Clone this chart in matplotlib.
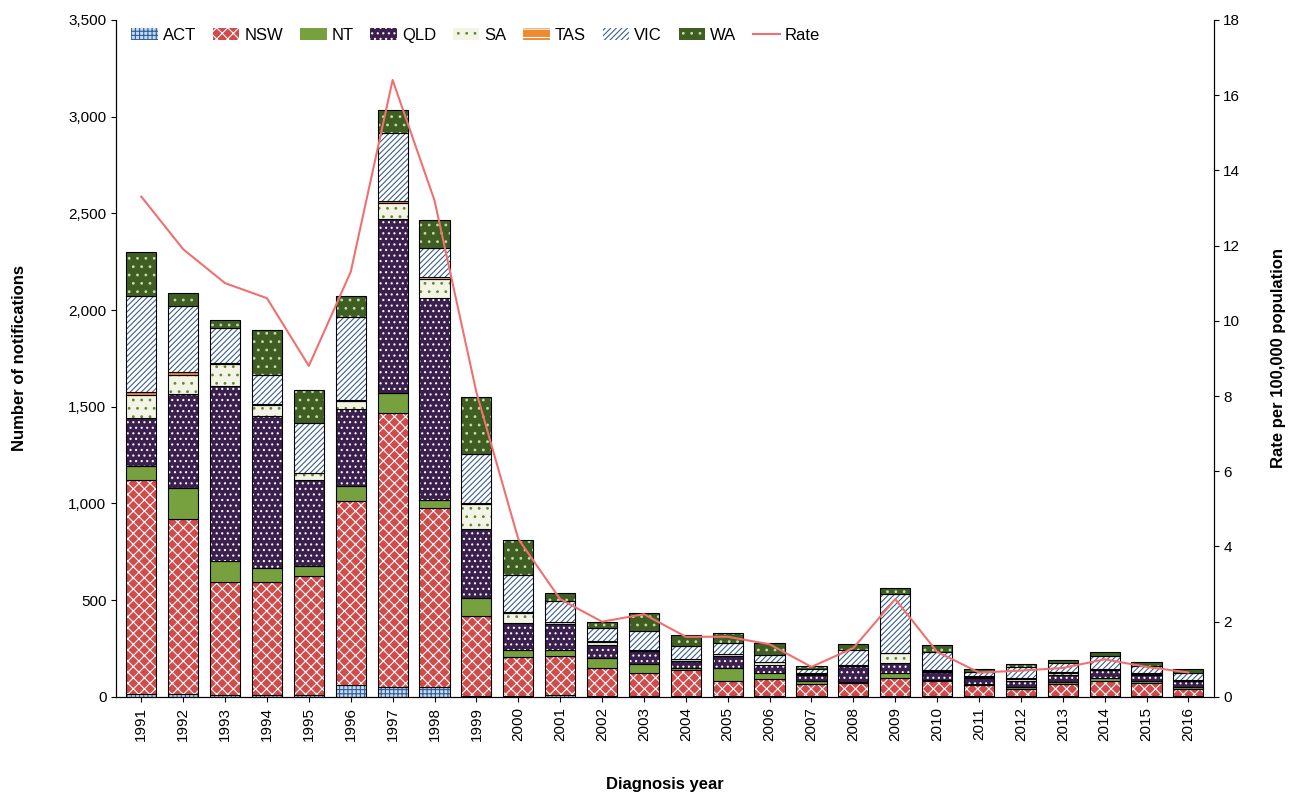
import matplotlib.pyplot as plt
import numpy as np

years = list(range(1991, 2017))
act = [15, 15, 10, 10, 10, 60, 50, 50, 5, 5, 10, 5, 5, 5, 5, 5, 5, 5, 5, 5, 5, 5, 5, 5, 5, 5]
nsw = [1105, 905, 585, 585, 615, 955, 1420, 925, 415, 200, 200, 145, 120, 135, 80, 90, 60, 65, 95, 75, 55, 35, 60, 80, 65, 35]
nt = [75, 160, 110, 70, 50, 75, 100, 45, 90, 40, 35, 50, 45, 10, 65, 30, 15, 5, 25, 10, 5, 10, 10, 15, 10, 10]
qld = [245, 485, 900, 785, 445, 400, 900, 1040, 360, 135, 130, 70, 65, 35, 60, 40, 35, 85, 50, 40, 35, 35, 40, 40, 35, 30]
sa = [120, 100, 115, 60, 35, 40, 85, 100, 125, 55, 10, 15, 5, 10, 10, 15, 5, 5, 50, 5, 5, 10, 10, 5, 5, 5]
tas = [15, 15, 5, 5, 5, 5, 10, 10, 5, 5, 5, 5, 5, 2, 2, 2, 2, 2, 2, 2, 2, 2, 2, 2, 2, 2]
vic = [495, 340, 180, 150, 255, 430, 350, 150, 255, 190, 105, 65, 95, 68, 58, 33, 23, 78, 303, 93, 23, 58, 48, 63, 38, 38]
wa = [230, 70, 45, 230, 170, 110, 120, 145, 295, 180, 40, 35, 95, 55, 50, 65, 15, 30, 35, 40, 15, 15, 15, 20, 20, 20]
rate = [13.3, 11.9, 11.0, 10.6, 8.8, 11.3, 16.4, 13.2, 8.1, 4.2, 2.6, 2.0, 2.2, 1.6, 1.6, 1.4,
        0.8, 1.3, 2.6, 1.2, 0.65, 0.7, 0.77, 1.0, 0.8, 0.65]

series = [
    ('ACT', act, '#c5d9ef', '#2f5f9a', '++++'),
    ('NSW', nsw, '#d24b4b', 'white', 'xxx'),
    ('NT', nt, '#77a03e', '#77a03e', ''),
    ('QLD', qld, '#3b1f4f', 'white', '...'),
    ('SA', sa, '#f4f4e6', '#5e8a30', '..'),
    ('TAS', tas, '#f08a30', 'white', '--'),
    ('VIC', vic, 'white', '#3a5f8f', '//////'),
    ('WA', wa, '#3f5f22', '#c8d8b0', '..'),
]

plt.rcParams['font.family'] = 'Liberation Sans'
plt.rcParams['hatch.linewidth'] = 0.8

fig, ax = plt.subplots(figsize=(12.91, 7.92), dpi=100)
x = np.arange(len(years))
bottom = np.zeros(len(years))
handles = []
for name, vals, fc, hc, hatch in series:
    vals = np.array(vals, dtype=float)
    b = ax.bar(x, vals, 0.72, bottom=bottom, color=fc, edgecolor=hc, hatch=hatch, linewidth=0, label=name)
    ax.bar(x, vals, 0.72, bottom=bottom, fill=False, edgecolor='black', linewidth=0.8)
    handles.append(b)
    bottom += vals

ax.set_ylim(0, 3500)
ax.set_yticks(range(0, 3501, 500))
ax.set_yticklabels([f'{v:,}' for v in range(0, 3501, 500)], fontsize=11)
ax.set_xlim(-0.6, len(years) - 0.4)
ax.set_xticks(x)
ax.set_xticklabels(years, rotation=90, fontsize=11)
ax.set_ylabel('Number of notifications', fontsize=12, fontweight='bold', labelpad=30)
ax.set_xlabel('Diagnosis year', fontsize=12, fontweight='bold', labelpad=26)
ax.spines['top'].set_visible(False)

ax2 = ax.twinx()
line, = ax2.plot(x, rate, color='#f07070', linewidth=1.5, label='Rate')
ax2.set_ylim(0, 18)
ax2.set_yticks(range(0, 19, 2))
ax2.tick_params(labelsize=11)
ax2.set_ylabel('Rate per 100,000 population', fontsize=12, fontweight='bold', labelpad=22)
ax2.spines['top'].set_visible(False)

ax.legend(handles + [line], [s[0] for s in series] + ['Rate'], loc='upper left', ncol=9,
          frameon=False, fontsize=12, handlelength=1.6, handletextpad=0.3, columnspacing=1.0,
          bbox_to_anchor=(0.0, 1.01))

fig.subplots_adjust(left=0.09, right=0.94, top=0.975, bottom=0.12)
fig.savefig('out.png', dpi=100)
